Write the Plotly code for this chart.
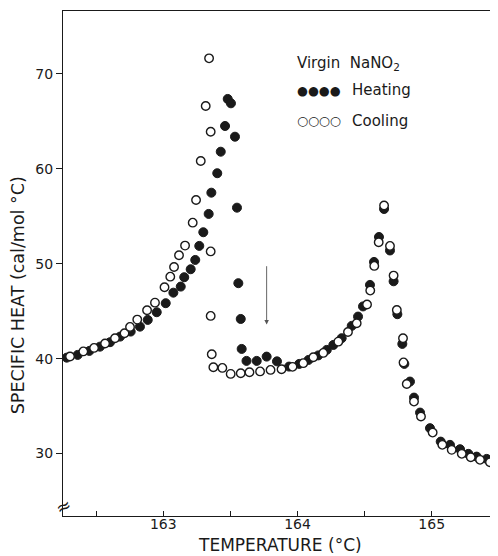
import plotly.graph_objects as go

# Heating (filled circles)
heat_t = [162.280, 162.362, 162.449, 162.528, 162.603, 162.678, 162.757, 162.826, 162.884, 162.951,
          163.018, 163.075, 163.130, 163.156, 163.204, 163.238, 163.268, 163.298, 163.338, 163.358,
          163.402, 163.428, 163.460, 163.480, 163.504, 163.534, 163.549, 163.559, 163.577, 163.584,
          163.620, 163.696, 163.770, 163.847, 163.937, 164.013, 164.082, 164.155, 164.218, 164.267,
          164.329, 164.404, 164.451, 164.488, 164.540, 164.570, 164.607, 164.645, 164.689, 164.716,
          164.744, 164.781, 164.796, 164.838, 164.868, 164.913, 164.987, 165.067, 165.136, 165.211,
          165.273, 165.335, 165.410, 165.472]
heat_c = [40.10, 40.39, 40.81, 41.26, 41.73, 42.32, 42.85, 43.37, 44.08, 44.89,
          45.84, 46.95, 47.59, 48.58, 49.42, 50.40, 51.88, 53.32, 55.25, 57.49,
          59.54, 61.81, 64.52, 67.37, 66.91, 63.39, 55.91, 47.95, 44.18, 41.02,
          39.76, 39.76, 40.21, 39.71, 39.16, 39.44, 39.86, 40.34, 40.92, 41.44,
          42.15, 43.45, 44.43, 45.50, 47.77, 50.19, 52.82, 55.77, 51.40, 48.15,
          44.68, 41.55, 39.44, 37.58, 35.89, 34.31, 32.67, 31.25, 30.91, 30.45,
          29.96, 29.67, 29.43, 29.25]

# Cooling (open circles)
cool_t = [162.305, 162.404, 162.484, 162.566, 162.640, 162.711, 162.752, 162.806, 162.879, 162.938,
          163.009, 163.052, 163.080, 163.117, 163.162, 163.219, 163.244, 163.279, 163.316, 163.341,
          163.353, 163.353, 163.353, 163.361, 163.373, 163.440, 163.502, 163.577, 163.642, 163.721,
          163.799, 163.881, 163.963, 164.043, 164.118, 164.192, 164.304, 164.376, 164.441, 164.518,
          164.542, 164.572, 164.605, 164.645, 164.689, 164.716, 164.740, 164.786, 164.790, 164.814,
          164.868, 164.920, 165.007, 165.079, 165.149, 165.224, 165.291, 165.360, 165.434]
cool_c = [40.23, 40.76, 41.13, 41.60, 42.15, 42.68, 43.34, 44.11, 45.10, 45.90,
          47.52, 48.64, 49.66, 50.90, 51.91, 54.33, 56.72, 60.83, 66.63, 71.65,
          63.92, 51.30, 44.50, 40.46, 39.09, 39.02, 38.39, 38.46, 38.57, 38.65,
          38.81, 38.88, 39.13, 39.52, 40.15, 40.60, 41.79, 42.81, 43.73, 45.71,
          47.17, 49.77, 52.27, 56.14, 51.88, 48.75, 45.13, 42.15, 39.60, 37.33,
          35.47, 33.89, 32.20, 30.91, 30.38, 29.96, 29.61, 29.33, 29.08]

x_tickvals = [162.5, 163, 163.5, 164, 164.5, 165]
x_ticktext = ["", "163", "", "164", "", "165"]
y_tickvals = [30, 40, 50, 60, 70]
y_ticktext = ["30", "40", "50", "60", "70"]

FONT = "DejaVu Sans"
INK = "#1a1a1a"

fig = go.Figure()
fig.add_trace(go.Scatter(
    x=heat_t, y=heat_c, mode="markers", name="Heating",
    marker=dict(symbol="circle", size=9, color=INK, line=dict(color=INK, width=1)),
))
fig.add_trace(go.Scatter(
    x=cool_t, y=cool_c, mode="markers", name="Cooling",
    marker=dict(symbol="circle", size=8.5, color="white", line=dict(color=INK, width=1.4)),
))

# page body adds an 8px margin, so the figure is 8px smaller and shifted
fig.update_layout(
    width=490, height=548,
    margin=dict(l=55, r=2, t=3, b=40, autoexpand=False),
    paper_bgcolor="white", plot_bgcolor="white",
    showlegend=False,
    font=dict(family=FONT, color=INK, size=13),
)
fig.update_xaxes(
    range=[162.2526, 165.479], showgrid=False, zeroline=False, automargin=False,
    showline=True, linecolor=INK, linewidth=1, mirror=True,
    tickmode="array", tickvals=x_tickvals, ticktext=x_ticktext,
    ticks="inside", ticklen=5, tickcolor=INK, tickwidth=1,
    ticklabelstandoff=-5,
    tickfont=dict(family=FONT, size=14, color=INK),
)
fig.update_yaxes(
    range=[23.41, 76.64], showgrid=False, zeroline=False, automargin=False,
    showline=True, linecolor=INK, linewidth=1, mirror=True,
    tickmode="array", tickvals=y_tickvals, ticktext=y_ticktext,
    ticks="outside", ticklen=6, tickcolor=INK, tickwidth=1,
    tickfont=dict(family=FONT, size=14, color=INK),
)

# axis titles
fig.add_annotation(text="SPECIFIC HEAT (cal/mol °C)", xref="paper", yref="paper",
                   x=-0.104, y=0.437, xanchor="center", yanchor="middle", textangle=-90,
                   showarrow=False, font=dict(family=FONT, size=17.5, color=INK))
fig.add_annotation(text="TEMPERATURE (°C)", xref="paper", yref="paper",
                   x=0.501, y=-0.058, xanchor="center", yanchor="middle",
                   showarrow=False, font=dict(family=FONT, size=17, color=INK))

# legend (text block)
fig.add_annotation(text="Virgin  NaNO<sub>2</sub>", x=163.981, y=71.1, xref="x", yref="y",
                   xanchor="left", yanchor="middle", showarrow=False,
                   font=dict(family=FONT, size=15, color=INK))
fig.add_annotation(text="●●●●", x=163.981, y=68.3, xref="x", yref="y",
                   xanchor="left", yanchor="middle", showarrow=False,
                   font=dict(family=FONT, size=12.5, color=INK))
fig.add_annotation(text="Heating", x=164.391, y=68.3, xref="x", yref="y",
                   xanchor="left", yanchor="middle", showarrow=False,
                   font=dict(family=FONT, size=15, color=INK))
fig.add_annotation(text="○○○○", x=163.981, y=65.05, xref="x", yref="y",
                   xanchor="left", yanchor="middle", showarrow=False,
                   font=dict(family=FONT, size=12.5, color=INK))
fig.add_annotation(text="Cooling", x=164.391, y=65.05, xref="x", yref="y",
                   xanchor="left", yanchor="middle", showarrow=False,
                   font=dict(family=FONT, size=15, color=INK))

# arrow
fig.add_annotation(x=163.77, y=43.6, ax=163.77, ay=49.9, xref="x", yref="y",
                   axref="x", ayref="y", showarrow=True, arrowhead=2, arrowsize=1,
                   arrowwidth=0.9, arrowcolor="#555555", text="")

# axis break symbol
fig.add_annotation(text="≈", xref="paper", yref="y", x=0, y=24.4, xanchor="center",
                   yanchor="middle", showarrow=False, textangle=-25,
                   font=dict(family=FONT, size=18, color=INK))

fig.write_html("out.html")
